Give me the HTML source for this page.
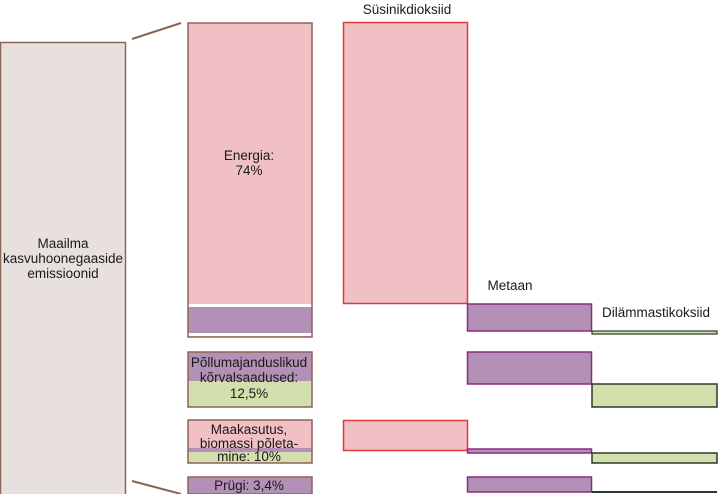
<!DOCTYPE html>
<html><head><meta charset="utf-8"><style>
html,body{margin:0;padding:0;background:#fff;width:718px;height:494px;overflow:hidden}
svg{display:block}
text{font-family:"Liberation Sans",sans-serif;font-size:13.5px;fill:#1a1a1a}
</style></head><body>
<svg width="718" height="494" viewBox="0 0 718 494">
<rect x="0.5" y="42.5" width="125" height="460" fill="#e8e0dd" stroke="#8c6458" stroke-width="1.5"/>
<line x1="132" y1="39" x2="181" y2="23" stroke="#8c6458" stroke-width="2"/>
<line x1="132" y1="481" x2="181" y2="494" stroke="#8c6458" stroke-width="2"/>
<text x="63" y="248" text-anchor="middle">Maailma</text>
<text x="63" y="263" text-anchor="middle">kasvuhoonegaaside</text>
<text x="63" y="278" text-anchor="middle">emissioonid</text>
<rect x="188" y="23" width="124" height="314" fill="#f0c0c4"/>
<rect x="188" y="304" width="124" height="3" fill="#fff"/>
<rect x="188" y="307" width="124" height="26" fill="#b391b6"/>
<rect x="188" y="333" width="124" height="3" fill="#fff"/>
<rect x="188" y="23" width="124" height="314" fill="none" stroke="#8c6458" stroke-width="1.5"/>
<text x="249" y="160" text-anchor="middle">Energia:</text>
<text x="249" y="175" text-anchor="middle">74%</text>
<rect x="188" y="352" width="124" height="29" fill="#b391b6"/>
<rect x="188" y="381" width="124" height="26" fill="#d3e0ad"/>
<rect x="188" y="352" width="124" height="55" fill="none" stroke="#8c6458" stroke-width="1.5"/>
<text x="249" y="367" text-anchor="middle">Põllumajanduslikud</text>
<text x="249" y="382" text-anchor="middle">kõrvalsaadused:</text>
<text x="249" y="398" text-anchor="middle">12,5%</text>
<rect x="188" y="420" width="124" height="28" fill="#f0c0c4"/>
<rect x="188" y="448" width="124" height="4" fill="#b391b6"/>
<rect x="188" y="452" width="124" height="11" fill="#d3e0ad"/>
<rect x="188" y="420" width="124" height="43" fill="none" stroke="#8c6458" stroke-width="1.5"/>
<text x="249" y="434" text-anchor="middle">Maakasutus,</text>
<text x="249" y="448" text-anchor="middle">biomassi põleta-</text>
<text x="249" y="461" text-anchor="middle">mine: 10%</text>
<rect x="188" y="477" width="124" height="17" fill="#b391b6" stroke="#8c6458" stroke-width="1.5"/>
<text x="249" y="490" text-anchor="middle">Prügi: 3,4%</text>
<text x="407" y="14" text-anchor="middle">Süsinikdioksiid</text>
<rect x="343.5" y="22.5" width="124" height="281" fill="#f0c0c4" stroke="#e03a3e" stroke-width="1.5"/>
<rect x="343.5" y="420.5" width="124" height="30" fill="#f0c0c4" stroke="#e03a3e" stroke-width="1.5"/>
<text x="510" y="290" text-anchor="middle">Metaan</text>
<rect x="467.5" y="304" width="124" height="27" fill="#b391b6" stroke="#8e2a7e" stroke-width="1.5"/>
<rect x="467.5" y="352" width="124" height="32" fill="#b391b6" stroke="#8e2a7e" stroke-width="1.5"/>
<rect x="467.5" y="449" width="124" height="4" fill="#b391b6" stroke="#8e2a7e" stroke-width="1.5"/>
<rect x="467.5" y="477" width="124" height="15" fill="#b391b6" stroke="#8e2a7e" stroke-width="1.5"/>
<text x="656" y="317" text-anchor="middle">Dilämmastikoksiid</text>
<rect x="592" y="331" width="125" height="3" fill="#d3e0ad" stroke="#2a3a2a" stroke-width="1.2"/>
<rect x="592" y="384" width="125" height="23" fill="#d3e0ad" stroke="#2a3a2a" stroke-width="1.5"/>
<rect x="592" y="453" width="125" height="10" fill="#d3e0ad" stroke="#2a3a2a" stroke-width="1.5"/>
<rect x="592" y="491" width="125" height="2" fill="#2a3a2a"/>
</svg>
</body></html>
